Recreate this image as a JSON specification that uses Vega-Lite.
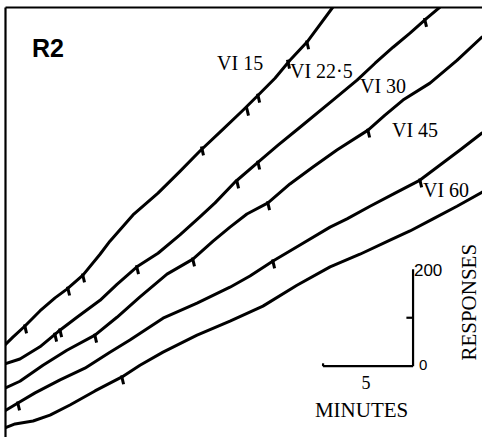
{
  "$schema": "https://vega.github.io/schema/vega-lite/v6.json",
  "width": 477,
  "height": 430,
  "autosize": {"type": "none"},
  "padding": {"left": 5, "top": 7, "right": 0, "bottom": 0},
  "background": "white",
  "config": {
    "view": {"stroke": null},
    "axis": {"domainColor": "black", "domainWidth": 2.2, "ticks": false, "labels": false, "grid": false, "title": null}
  },
  "datasets": {
    "curves": [
      {"s": "VI 15", "min": 0, "resp": 190}, {"s": "VI 15", "min": 0.44, "resp": 206}, {"s": "VI 15", "min": 1.11, "resp": 229}, {"s": "VI 15", "min": 1.94, "resp": 260}, {"s": "VI 15", "min": 2.78, "resp": 287}, {"s": "VI 15", "min": 3.44, "resp": 305}, {"s": "VI 15", "min": 4.33, "resp": 334}, {"s": "VI 15", "min": 5.28, "resp": 377}, {"s": "VI 15", "min": 5.83, "resp": 404}, {"s": "VI 15", "min": 7.11, "resp": 458}, {"s": "VI 15", "min": 8.5, "resp": 503}, {"s": "VI 15", "min": 9.72, "resp": 548}, {"s": "VI 15", "min": 10.83, "resp": 590}, {"s": "VI 15", "min": 12.06, "resp": 633}, {"s": "VI 15", "min": 13.22, "resp": 674}, {"s": "VI 15", "min": 14.06, "resp": 705}, {"s": "VI 15", "min": 15.0, "resp": 740}, {"s": "VI 15", "min": 15.83, "resp": 777}, {"s": "VI 15", "min": 16.83, "resp": 817}, {"s": "VI 15", "min": 18.22, "resp": 887},
      {"s": "VI 22.5", "min": 0, "resp": 151}, {"s": "VI 22.5", "min": 0.83, "resp": 161}, {"s": "VI 22.5", "min": 1.94, "resp": 186}, {"s": "VI 22.5", "min": 2.94, "resp": 217}, {"s": "VI 22.5", "min": 4.0, "resp": 247}, {"s": "VI 22.5", "min": 5.28, "resp": 282}, {"s": "VI 22.5", "min": 6.22, "resp": 315}, {"s": "VI 22.5", "min": 7.33, "resp": 351}, {"s": "VI 22.5", "min": 8.5, "resp": 379}, {"s": "VI 22.5", "min": 9.72, "resp": 417}, {"s": "VI 22.5", "min": 10.83, "resp": 454}, {"s": "VI 22.5", "min": 11.67, "resp": 483}, {"s": "VI 22.5", "min": 12.78, "resp": 526}, {"s": "VI 22.5", "min": 14.0, "resp": 565}, {"s": "VI 22.5", "min": 15.17, "resp": 602}, {"s": "VI 22.5", "min": 16.39, "resp": 639}, {"s": "VI 22.5", "min": 18.22, "resp": 695}, {"s": "VI 22.5", "min": 19.56, "resp": 736}, {"s": "VI 22.5", "min": 20.56, "resp": 771}, {"s": "VI 22.5", "min": 21.56, "resp": 804}, {"s": "VI 22.5", "min": 22.5, "resp": 833}, {"s": "VI 22.5", "min": 23.44, "resp": 864}, {"s": "VI 22.5", "min": 24.17, "resp": 887},
      {"s": "VI 30", "min": 0, "resp": 101}, {"s": "VI 30", "min": 0.83, "resp": 115}, {"s": "VI 30", "min": 2.11, "resp": 148}, {"s": "VI 30", "min": 3.44, "resp": 179}, {"s": "VI 30", "min": 5.0, "resp": 210}, {"s": "VI 30", "min": 6.22, "resp": 247}, {"s": "VI 30", "min": 7.5, "resp": 289}, {"s": "VI 30", "min": 9.0, "resp": 336}, {"s": "VI 30", "min": 10.44, "resp": 367}, {"s": "VI 30", "min": 11.56, "resp": 404}, {"s": "VI 30", "min": 12.5, "resp": 433}, {"s": "VI 30", "min": 13.44, "resp": 460}, {"s": "VI 30", "min": 14.61, "resp": 483}, {"s": "VI 30", "min": 15.83, "resp": 522}, {"s": "VI 30", "min": 17.11, "resp": 557}, {"s": "VI 30", "min": 18.44, "resp": 592}, {"s": "VI 30", "min": 20.17, "resp": 633}, {"s": "VI 30", "min": 21.11, "resp": 664}, {"s": "VI 30", "min": 22.11, "resp": 695}, {"s": "VI 30", "min": 23.61, "resp": 730}, {"s": "VI 30", "min": 25.11, "resp": 777}, {"s": "VI 30", "min": 26.5, "resp": 825},
      {"s": "VI 45", "min": 0, "resp": 54}, {"s": "VI 45", "min": 0.72, "resp": 70}, {"s": "VI 45", "min": 1.67, "resp": 91}, {"s": "VI 45", "min": 3.06, "resp": 118}, {"s": "VI 45", "min": 4.44, "resp": 142}, {"s": "VI 45", "min": 5.83, "resp": 175}, {"s": "VI 45", "min": 6.94, "resp": 200}, {"s": "VI 45", "min": 8.78, "resp": 245}, {"s": "VI 45", "min": 10.67, "resp": 276}, {"s": "VI 45", "min": 12.5, "resp": 309}, {"s": "VI 45", "min": 13.61, "resp": 332}, {"s": "VI 45", "min": 14.89, "resp": 363}, {"s": "VI 45", "min": 16.39, "resp": 396}, {"s": "VI 45", "min": 18.06, "resp": 433}, {"s": "VI 45", "min": 19.0, "resp": 450}, {"s": "VI 45", "min": 20.28, "resp": 476}, {"s": "VI 45", "min": 21.67, "resp": 503}, {"s": "VI 45", "min": 23.06, "resp": 530}, {"s": "VI 45", "min": 24.17, "resp": 561}, {"s": "VI 45", "min": 25.28, "resp": 592}, {"s": "VI 45", "min": 26.5, "resp": 627},
      {"s": "VI 60", "min": 0, "resp": 19}, {"s": "VI 60", "min": 0.56, "resp": 27}, {"s": "VI 60", "min": 1.56, "resp": 33}, {"s": "VI 60", "min": 2.5, "resp": 45}, {"s": "VI 60", "min": 3.61, "resp": 66}, {"s": "VI 60", "min": 5.0, "resp": 95}, {"s": "VI 60", "min": 6.5, "resp": 124}, {"s": "VI 60", "min": 7.5, "resp": 148}, {"s": "VI 60", "min": 8.78, "resp": 175}, {"s": "VI 60", "min": 10.67, "resp": 210}, {"s": "VI 60", "min": 12.5, "resp": 239}, {"s": "VI 60", "min": 14.33, "resp": 270}, {"s": "VI 60", "min": 16.22, "resp": 313}, {"s": "VI 60", "min": 18.06, "resp": 351}, {"s": "VI 60", "min": 19.72, "resp": 377}, {"s": "VI 60", "min": 21.39, "resp": 406}, {"s": "VI 60", "min": 22.5, "resp": 425}, {"s": "VI 60", "min": 23.78, "resp": 450}, {"s": "VI 60", "min": 25.11, "resp": 476}, {"s": "VI 60", "min": 26.5, "resp": 505}
    ],
    "reinforcements": [
      {"s": "VI 15", "min": 1.11, "resp": 229}, {"s": "VI 15", "min": 3.5, "resp": 307}, {"s": "VI 15", "min": 4.33, "resp": 334}, {"s": "VI 15", "min": 10.94, "resp": 596}, {"s": "VI 15", "min": 13.44, "resp": 678}, {"s": "VI 15", "min": 14.06, "resp": 705}, {"s": "VI 15", "min": 15.72, "resp": 775}, {"s": "VI 15", "min": 16.78, "resp": 815},
      {"s": "VI 22.5", "min": 2.78, "resp": 212}, {"s": "VI 22.5", "min": 3.06, "resp": 221}, {"s": "VI 22.5", "min": 7.33, "resp": 351}, {"s": "VI 22.5", "min": 12.89, "resp": 528}, {"s": "VI 22.5", "min": 14.06, "resp": 567}, {"s": "VI 22.5", "min": 23.33, "resp": 861},
      {"s": "VI 30", "min": 5.0, "resp": 210}, {"s": "VI 30", "min": 10.44, "resp": 367}, {"s": "VI 30", "min": 14.61, "resp": 483}, {"s": "VI 30", "min": 20.17, "resp": 633},
      {"s": "VI 45", "min": 0.72, "resp": 70}, {"s": "VI 45", "min": 14.89, "resp": 363}, {"s": "VI 45", "min": 23.06, "resp": 530},
      {"s": "VI 60", "min": 6.5, "resp": 124}
    ],
    "labels": [
      {"text": "VI 15", "min": 11.78, "resp": 757},
      {"text": "VI 22·5", "min": 15.83, "resp": 740},
      {"text": "VI 30", "min": 19.72, "resp": 709},
      {"text": "VI 45", "min": 21.5, "resp": 619},
      {"text": "VI 60", "min": 23.22, "resp": 495}
    ],
    "scalebar": [
      {"part": "h", "x1": 17.67, "x2": 22.67, "y1": 146, "y2": 146},
      {"part": "v", "x1": 22.67, "x2": 22.67, "y1": 146, "y2": 346},
      {"part": "mid", "x1": 22.3, "x2": 22.67, "y1": 246, "y2": 246},
      {"part": "end", "x1": 17.67, "x2": 17.67, "y1": 146, "y2": 152}
    ]
  },
  "layer": [
    {
      "data": {"name": "curves"},
      "mark": {"type": "line", "color": "black", "strokeWidth": 3, "strokeJoin": "round", "strokeCap": "round", "clip": true},
      "encoding": {
        "x": {"field": "min", "type": "quantitative", "scale": {"domain": [0, 26.5], "nice": false, "zero": false}, "axis": {"orient": "top"}},
        "y": {"field": "resp", "type": "quantitative", "scale": {"domain": [0, 887], "nice": false, "zero": false}, "axis": {"orient": "left"}},
        "detail": {"field": "s"},
        "order": {"field": "min", "type": "quantitative"}
      }
    },
    {
      "data": {"name": "reinforcements"},
      "mark": {"type": "point", "shape": "M-0.1,-0.3L0.3,1.4", "filled": false, "stroke": "black", "strokeWidth": 3, "size": 110, "opacity": 1},
      "encoding": {
        "x": {"field": "min", "type": "quantitative"},
        "y": {"field": "resp", "type": "quantitative"}
      }
    },
    {
      "data": {"name": "labels"},
      "mark": {"type": "text", "font": "Liberation Serif", "fontSize": 20, "align": "left", "baseline": "alphabetic", "color": "black"},
      "encoding": {
        "x": {"field": "min", "type": "quantitative"},
        "y": {"field": "resp", "type": "quantitative"},
        "text": {"field": "text"}
      }
    },
    {
      "data": {"values": [{"text": "R2", "min": 1.5, "resp": 784}]},
      "mark": {"type": "text", "font": "Liberation Sans", "fontSize": 25, "fontWeight": "bold", "align": "left", "baseline": "alphabetic", "color": "black", "letterSpacing": 2},
      "encoding": {
        "x": {"field": "min", "type": "quantitative"},
        "y": {"field": "resp", "type": "quantitative"},
        "text": {"field": "text"}
      }
    },
    {
      "data": {"name": "scalebar"},
      "mark": {"type": "rule", "color": "black", "strokeWidth": 2.2},
      "encoding": {
        "x": {"field": "x1", "type": "quantitative"},
        "x2": {"field": "x2"},
        "y": {"field": "y1", "type": "quantitative"},
        "y2": {"field": "y2"}
      }
    },
    {
      "data": {"values": [{"text": "200", "min": 22.72, "resp": 332}]},
      "mark": {"type": "text", "font": "Liberation Sans", "fontSize": 17, "align": "left", "baseline": "alphabetic", "color": "black"},
      "encoding": {
        "x": {"field": "min", "type": "quantitative"},
        "y": {"field": "resp", "type": "quantitative"},
        "text": {"field": "text"}
      }
    },
    {
      "data": {"values": [{"text": "0", "min": 23.0, "resp": 138}]},
      "mark": {"type": "text", "font": "Liberation Sans", "fontSize": 15, "align": "left", "baseline": "alphabetic", "color": "black"},
      "encoding": {
        "x": {"field": "min", "type": "quantitative"},
        "y": {"field": "resp", "type": "quantitative"},
        "text": {"field": "text"}
      }
    },
    {
      "data": {"values": [{"text": "5", "min": 20.06, "resp": 99, "size": 18}, {"text": "MINUTES", "min": 19.81, "resp": 41, "size": 21}]},
      "mark": {"type": "text", "font": "Liberation Serif", "align": "center", "baseline": "alphabetic", "color": "black"},
      "encoding": {
        "x": {"field": "min", "type": "quantitative"},
        "y": {"field": "resp", "type": "quantitative"},
        "text": {"field": "text"},
        "size": {"field": "size", "type": "quantitative", "scale": null}
      }
    },
    {
      "data": {"values": [{"text": "RESPONSES", "min": 25.83, "resp": 278}]},
      "mark": {"type": "text", "font": "Liberation Serif", "fontSize": 21, "angle": 270, "align": "center", "baseline": "middle", "color": "black"},
      "encoding": {
        "x": {"field": "min", "type": "quantitative"},
        "y": {"field": "resp", "type": "quantitative"},
        "text": {"field": "text"}
      }
    }
  ]
}
